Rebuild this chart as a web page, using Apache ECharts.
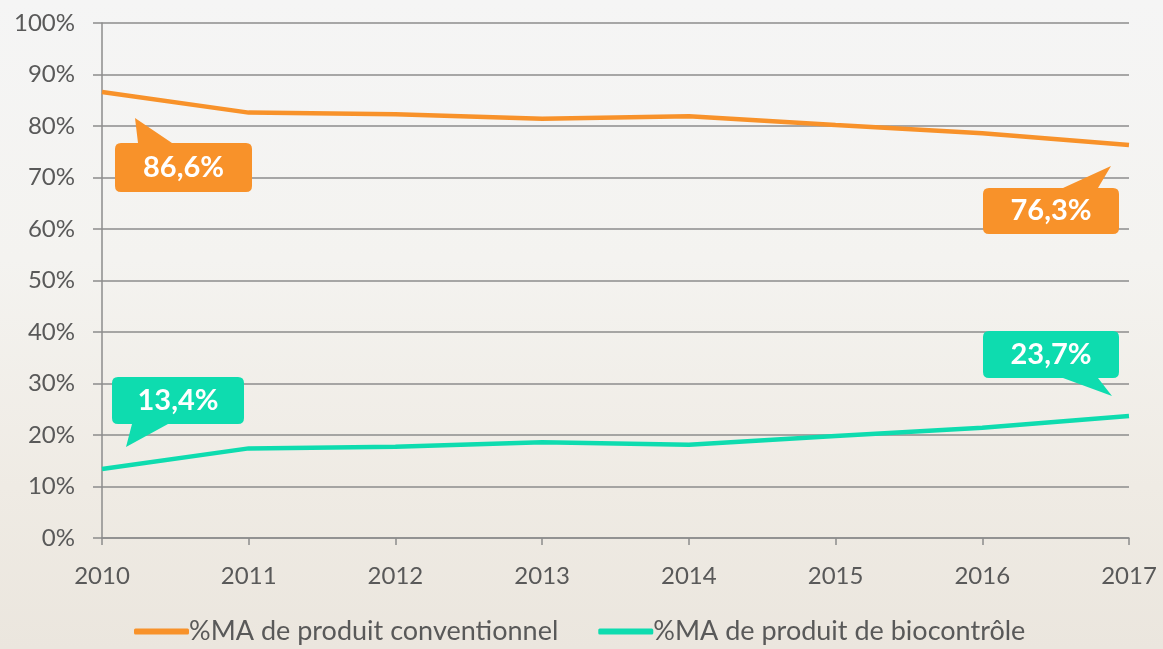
<!DOCTYPE html>
<html>
<head>
<meta charset="utf-8">
<script src="https://cdn.jsdelivr.net/npm/echarts@6/dist/echarts.min.js"></script>
<style>
  html, body { margin: 0; padding: 0; }
  body {
    width: 1163px; height: 649px;
    background: linear-gradient(180deg, #f5f5f5 0%, #f4f3f0 40%, #efebe4 75%, #ebe6de 100%);
  }
  #chart { width: 1163px; height: 649px; }
</style>
</head>
<body>
<div id="chart"></div>
<script>
const years = ['2010', '2011', '2012', '2013', '2014', '2015', '2016', '2017']
const conventionnel = [86.6, 82.6, 82.3, 81.4, 81.9, 80.2, 78.6, 76.3]
const biocontrole = [13.4, 17.4, 17.7, 18.6, 18.1, 19.8, 21.4, 23.7]

const orange = '#F8922A'
const teal = '#0EDCAF'
const gridGray = '#8c8c8c'
const textGray = '#595959'
const font = 'Lato, "Open Sans", sans-serif'

// callout bubbles: box with a tail pointing toward the line
const bubbleLabel = {
  show: true,
  color: '#fff',
  fontSize: 29,
  fontWeight: 'bold',
  fontFamily: font,
  formatter: p => String(p.value).replace('.', ',') + '%'
}

const calloutTopLeft = 'path://M6 25 L23 25 L20 0 L57 25 L131 25 Q137 25 137 31 L137 68 Q137 74 131 74 L6 74 Q0 74 0 68 L0 31 Q0 25 6 25 Z'
const calloutTopRight = 'path://M6 22 L80 22 L128 0 L115 22 L130 22 Q136 22 136 28 L136 62 Q136 68 130 68 L6 68 Q0 68 0 62 L0 28 Q0 22 6 22 Z'
const calloutBottomLeft = 'path://M6 0 L126 0 Q132 0 132 6 L132 41 Q132 47 126 47 L56 47 L14 70 L20 47 L6 47 Q0 47 0 41 L0 6 Q0 0 6 0 Z'
const calloutBottomRight = 'path://M6 0 L130 0 Q136 0 136 6 L136 41 Q136 47 130 47 L115 47 L129 65 L80 47 L6 47 Q0 47 0 41 L0 6 Q0 0 6 0 Z'

const chart = echarts.init(document.getElementById('chart'))

const option = {
  backgroundColor: 'transparent',
  animation: false,
  grid: { left: 102, right: 34, top: 23, bottom: 111 },
  legend: {
    bottom: -1,
    left: 129,
    itemWidth: 55,
    itemHeight: 6,
    itemGap: 40,
    icon: 'roundRect',
    textStyle: { color: textGray, fontSize: 27, fontFamily: font, padding: [0, 0, 0, -5] },
    data: ['%MA de produit conventionnel', '%MA de produit de biocontrôle']
  },
  xAxis: {
    type: 'category',
    boundaryGap: false,
    data: years,
    axisLine: { lineStyle: { color: gridGray, width: 1.5 } },
    axisTick: { show: true, length: 7, lineStyle: { color: gridGray, width: 1.5 } },
    axisLabel: { color: textGray, fontSize: 24, fontFamily: font, margin: 26 },
    splitLine: { show: false }
  },
  yAxis: {
    type: 'value',
    min: 0,
    max: 100,
    interval: 10,
    axisLine: { show: true, lineStyle: { color: gridGray, width: 1.5 } },
    axisTick: { show: true, length: 9, lineStyle: { color: gridGray, width: 1.5 } },
    axisLabel: { color: textGray, fontSize: 24, fontFamily: font, margin: 27, formatter: '{value}%' },
    splitLine: { show: true, lineStyle: { color: gridGray, width: 1.5 } }
  },
  series: [
    {
      name: '%MA de produit conventionnel',
      type: 'line',
      data: conventionnel,
      symbol: 'none',
      lineStyle: { color: orange, width: 4.5 },
      itemStyle: { color: orange },
      markPoint: {
        silent: true,
        itemStyle: { color: orange },
        label: bubbleLabel,
        data: [
          { coord: [0, conventionnel[0]], value: conventionnel[0], symbol: calloutTopLeft,
            symbolSize: [137, 74], symbolOffset: [81.5, 63], label: { offset: [0, 12.5] } },
          { coord: [7, conventionnel[7]], value: conventionnel[7], symbol: calloutTopRight,
            symbolSize: [136, 68], symbolOffset: [-78, 55], label: { offset: [0, 11] } }
        ]
      }
    },
    {
      name: '%MA de produit de biocontrôle',
      type: 'line',
      data: biocontrole,
      symbol: 'none',
      lineStyle: { color: teal, width: 4.5 },
      itemStyle: { color: teal },
      markPoint: {
        silent: true,
        itemStyle: { color: teal },
        label: bubbleLabel,
        data: [
          { coord: [0, biocontrole[0]], value: biocontrole[0], symbol: calloutBottomLeft,
            symbolSize: [132, 70], symbolOffset: [76, -57], label: { offset: [0, -11.5] } },
          { coord: [7, biocontrole[7]], value: biocontrole[7], symbol: calloutBottomRight,
            symbolSize: [136, 65], symbolOffset: [-78, -52.5], label: { offset: [0, -9] } }
        ]
      }
    }
  ]
}

chart.setOption(option)
</script>
</body>
</html>
